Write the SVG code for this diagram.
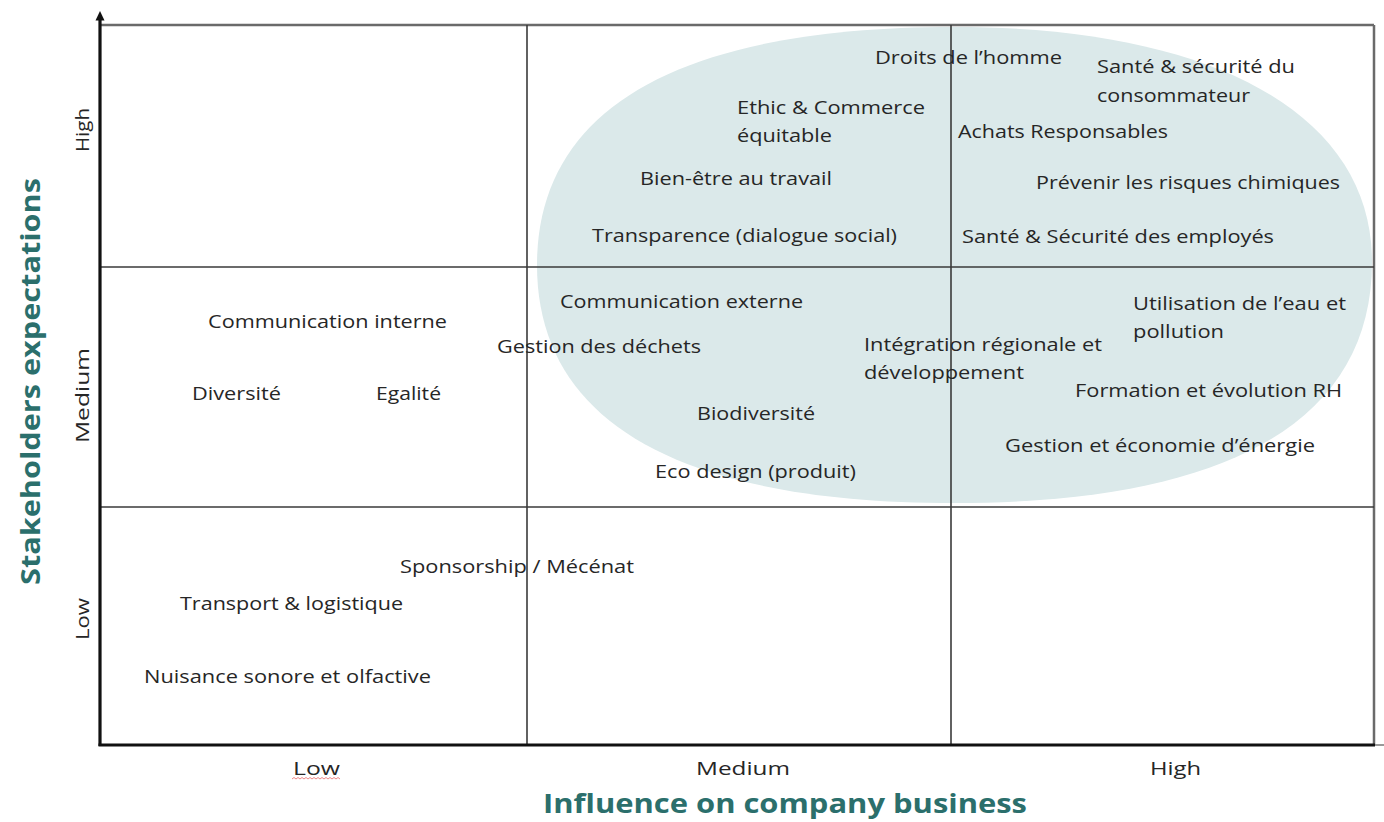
<svg xmlns="http://www.w3.org/2000/svg" width="1384" height="822" viewBox="0 0 1384 822">
<style>
.t{font-family:"Open Sans","Liberation Sans",sans-serif;font-size:19px;fill:#262626}
.ax{font-family:"Open Sans","Liberation Sans",sans-serif;font-size:19px;fill:#262626}
.ttl{font-family:"Open Sans","Liberation Sans",sans-serif;font-size:27px;font-weight:bold;fill:#2b6f6c}
.grid{stroke:#3a3a3a;stroke-width:1.6;fill:none}
.border{stroke:#6a6a6a;stroke-width:2.5;fill:none}
.axis{stroke:#111;stroke-width:3.2;fill:none}
.head{fill:#111}
</style>
<rect width="1384" height="822" fill="#fff"/>
<path id="zone" d="M 954.5 27 C 1210 27 1372 112 1372 262 C 1372 420 1230 503 954.5 503 C 679 503 537 422 537 265 C 537 108 679 27 954.5 27 Z" fill="#dbe9ea"/>
<g id="grid">
<line class="border" x1="101" y1="25" x2="1374" y2="25"/>
<line class="border" x1="1374" y1="25" x2="1374" y2="745"/>
<line class="grid" x1="101" y1="267" x2="1374" y2="267"/>
<line class="grid" x1="101" y1="507" x2="1374" y2="507"/>
<line class="grid" x1="527" y1="25" x2="527" y2="745"/>
<line class="grid" x1="951" y1="25" x2="951" y2="745"/>
</g>
<g id="connectors">
<line class="axis" x1="100" y1="746" x2="100" y2="19"/>
<polygon class="head" points="100,11 95.5,20.5 104.5,20.5"/>
<line class="axis" x1="98.5" y1="745" x2="1375" y2="745"/>
<line x1="1375" y1="745" x2="1384" y2="745" stroke="#777" stroke-width="1.5"/>
</g>
<g id="axis-labels">
<g id="x-low"><text class="ax" x="293" y="775" textLength="47" lengthAdjust="spacingAndGlyphs">Low</text>
<path d="M292 779 l2 -1.5 l2 1.5 l2 -1.5 l2 1.5 l2 -1.5 l2 1.5 l2 -1.5 l2 1.5 l2 -1.5 l2 1.5 l2 -1.5 l2 1.5 l2 -1.5 l2 1.5 l2 -1.5 l2 1.5 l2 -1.5 l2 1.5 l2 -1.5 l2 1.5 l2 -1.5 l2 1.5 l2 -1.5 l2 1.5" fill="none" stroke="#e88" stroke-width="1"/></g>
<text id="x-medium" class="ax" x="696" y="775" textLength="94" lengthAdjust="spacingAndGlyphs">Medium</text>
<text id="x-high" class="ax" x="1150" y="775" textLength="51" lengthAdjust="spacingAndGlyphs">High</text>
<text id="y-high" class="ax" transform="translate(89,152) rotate(-90)" textLength="44" lengthAdjust="spacingAndGlyphs">High</text>
<text id="y-medium" class="ax" transform="translate(89,443) rotate(-90)" textLength="95" lengthAdjust="spacingAndGlyphs">Medium</text>
<text id="y-low" class="ax" transform="translate(89,640) rotate(-90)" textLength="42" lengthAdjust="spacingAndGlyphs">Low</text>
<text id="x-title" class="ttl" x="543" y="813" textLength="484" lengthAdjust="spacingAndGlyphs">Influence on company business</text>
<text id="y-title" class="ttl" transform="translate(40,585) rotate(-90)" textLength="407" lengthAdjust="spacingAndGlyphs">Stakeholders expectations</text>
</g>
<g id="n-droits"><text class="t" x="875" y="64" textLength="187" lengthAdjust="spacingAndGlyphs">Droits de l’homme</text></g>
<g id="n-sante-conso"><text class="t" x="1097" y="73" textLength="198" lengthAdjust="spacingAndGlyphs">Santé &amp; sécurité du</text><text class="t" x="1097" y="102" textLength="153" lengthAdjust="spacingAndGlyphs">consommateur</text></g>
<g id="n-ethic"><text class="t" x="737" y="114" textLength="188" lengthAdjust="spacingAndGlyphs">Ethic &amp; Commerce</text><text class="t" x="737" y="142" textLength="95" lengthAdjust="spacingAndGlyphs">équitable</text></g>
<g id="n-achats"><text class="t" x="958" y="138" textLength="210" lengthAdjust="spacingAndGlyphs">Achats Responsables</text></g>
<g id="n-bien-etre"><text class="t" x="640" y="185" textLength="192" lengthAdjust="spacingAndGlyphs">Bien-être au travail</text></g>
<g id="n-chimiques"><text class="t" x="1036" y="189" textLength="304" lengthAdjust="spacingAndGlyphs">Prévenir les risques chimiques</text></g>
<g id="n-transparence"><text class="t" x="592" y="242" textLength="305" lengthAdjust="spacingAndGlyphs">Transparence (dialogue social)</text></g>
<g id="n-sante-employes"><text class="t" x="962" y="243" textLength="312" lengthAdjust="spacingAndGlyphs">Santé &amp; Sécurité des employés</text></g>
<g id="n-com-externe"><text class="t" x="560" y="308" textLength="243" lengthAdjust="spacingAndGlyphs">Communication externe</text></g>
<g id="n-com-interne"><text class="t" x="208" y="328" textLength="239" lengthAdjust="spacingAndGlyphs">Communication interne</text></g>
<g id="n-dechets"><text class="t" x="497" y="353" textLength="204" lengthAdjust="spacingAndGlyphs">Gestion des déchets</text></g>
<g id="n-eau"><text class="t" x="1133" y="310" textLength="213" lengthAdjust="spacingAndGlyphs">Utilisation de l’eau et</text><text class="t" x="1133" y="338" textLength="91" lengthAdjust="spacingAndGlyphs">pollution</text></g>
<g id="n-integration"><text class="t" x="864" y="351" textLength="238" lengthAdjust="spacingAndGlyphs">Intégration régionale et</text><text class="t" x="864" y="379" textLength="160" lengthAdjust="spacingAndGlyphs">développement</text></g>
<g id="n-diversite"><text class="t" x="192" y="400" textLength="89" lengthAdjust="spacingAndGlyphs">Diversité</text></g>
<g id="n-egalite"><text class="t" x="376" y="400" textLength="65" lengthAdjust="spacingAndGlyphs">Egalité</text></g>
<g id="n-formation"><text class="t" x="1075" y="397" textLength="267" lengthAdjust="spacingAndGlyphs">Formation et évolution RH</text></g>
<g id="n-biodiversite"><text class="t" x="697" y="420" textLength="118" lengthAdjust="spacingAndGlyphs">Biodiversité</text></g>
<g id="n-energie"><text class="t" x="1005" y="452" textLength="310" lengthAdjust="spacingAndGlyphs">Gestion et économie d’énergie</text></g>
<g id="n-ecodesign"><text class="t" x="655" y="478" textLength="201" lengthAdjust="spacingAndGlyphs">Eco design (produit)</text></g>
<g id="n-sponsorship"><text class="t" x="400" y="573" textLength="234" lengthAdjust="spacingAndGlyphs">Sponsorship / Mécénat</text></g>
<g id="n-transport"><text class="t" x="180" y="610" textLength="223" lengthAdjust="spacingAndGlyphs">Transport &amp; logistique</text></g>
<g id="n-nuisance"><text class="t" x="144" y="683" textLength="287" lengthAdjust="spacingAndGlyphs">Nuisance sonore et olfactive</text></g>
</svg>
